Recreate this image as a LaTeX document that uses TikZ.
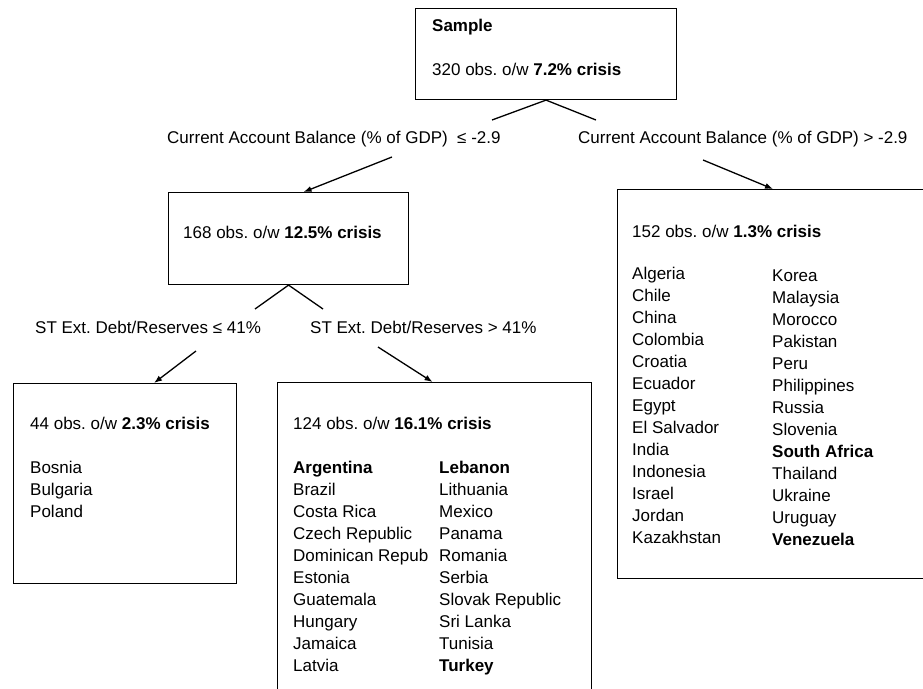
\documentclass[tikz,border=0pt]{standalone}
\usepackage{fontspec}
\setmainfont{Liberation Sans}
\usepackage{tikz}
\usetikzlibrary{arrows.meta,calc,positioning}
\frenchspacing
\newcommand{\myrow}{22}
\tikzset{
    boxsty/.style={draw,line width=1.1pt,rectangle,inner sep=0pt,anchor=north west},
    txtsty/.style={inner sep=0pt,anchor=base west},
    lblsty/.style={inner sep=0pt,anchor=base west},
    linsty/.style={line width=1.3pt},
    arrsty/.style={line width=1.3pt,->},
}

\begin{document}
\begin{tikzpicture}[x=1pt,y=-1pt,>={Latex[length=8pt,width=6pt]},font=\fontsize{17}{22}\selectfont]
  \useasboundingbox (0,0) rectangle (923,688);

  % boxes
  \node (sample) [boxsty,minimum width=261pt,minimum height=91pt] at (415,8) {};
  \node (neg)    [boxsty,minimum width=240pt,minimum height=92pt] at (168,192) {};
  \node (pos)    [boxsty,minimum width=330pt,minimum height=389pt] at (617,189) {};
  \node (low)    [boxsty,minimum width=223pt,minimum height=200pt] at (13,383) {};
  \node (high)   [boxsty,minimum width=314pt,minimum height=320pt] at (277,382) {};

  % box texts
  \node (sname) [txtsty] at (432,31) {\textbf{Sample}};
  \node (sobs)  [txtsty] at (432,75) {320 obs. o/w \textbf{7.2\% crisis}};
  \node (nobs)  [txtsty] at (183,238) {168 obs. o/w \textbf{12.5\% crisis}};
  \node (pobs)  [txtsty] at (632,237) {152 obs. o/w \textbf{1.3\% crisis}};
  \node (lobs)  [txtsty] at (30,429) {44 obs. o/w \textbf{2.3\% crisis}};
  \node (hobs)  [txtsty] at (293,429) {124 obs. o/w \textbf{16.1\% crisis}};

  % split labels
  \node (cal) [lblsty] at (167,143) {Current Account Balance (\% of GDP)~ ≤ -2.9};
  \node (cah) [lblsty] at (578,143) {Current Account Balance (\% of GDP) > -2.9};
  \node (stl) [lblsty] at (35,333) {ST Ext. Debt/Reserves ≤ 41\%};
  \node (sth) [lblsty] at (310,333) {ST Ext. Debt/Reserves > 41\%};

  % country lists
  \foreach \cn [count=\i] in {Algeria,Chile,China,Colombia,Croatia,Ecuador,Egypt,El Salvador,India,Indonesia,Israel,Jordan,Kazakhstan}
    \node (pa-\i) [txtsty] at (632,{279+\myrow*(\i-1)}) {\cn};
  \foreach \cn [count=\i] in {Korea,Malaysia,Morocco,Pakistan,Peru,Philippines,Russia,Slovenia,{\textbf{South Africa}},Thailand,Ukraine,Uruguay,{\textbf{Venezuela}}}
    \node (pb-\i) [txtsty] at (772,{281+\myrow*(\i-1)}) {\cn};
  \foreach \cn [count=\i] in {Bosnia,Bulgaria,Poland}
    \node (la-\i) [txtsty] at (30,{473+\myrow*(\i-1)}) {\cn};
  \foreach \cn [count=\i] in {{\textbf{Argentina}},Brazil,Costa Rica,Czech Republic,Dominican Repub,Estonia,Guatemala,Hungary,Jamaica,Latvia}
    \node (ha-\i) [txtsty] at (293,{473+\myrow*(\i-1)}) {\cn};
  \foreach \cn [count=\i] in {{\textbf{Lebanon}},Lithuania,Mexico,Panama,Romania,Serbia,Slovak Republic,Sri Lanka,Tunisia,{\textbf{Turkey}}}
    \node (hb-\i) [txtsty] at (439,{473+\myrow*(\i-1)}) {\cn};

  % connectors
  \coordinate (s-l) at (492,120);
  \coordinate (s-r) at (596,120);
  \coordinate (n-l) at (255,309);
  \coordinate (n-r) at (323,309);
  \coordinate (a1) at (392,157);
  \coordinate (a2) at (703,160);
  \coordinate (a3) at (196,351);
  \coordinate (a4) at (378,347);

  \draw[linsty] (s-l) -- (sample.south) -- (s-r);
  \draw[linsty] (n-l) -- (neg.south) -- (n-r);
  \draw[arrsty] (a1) -- ([xshift=15pt]neg.north);
  \draw[arrsty] (a2) -- (773,189 |- pos.north);
  \draw[arrsty] (a3) -- ([xshift=29pt]low.north);
  \draw[arrsty] (a4) -- ([xshift=-2pt]high.north);
\end{tikzpicture}
\end{document}
